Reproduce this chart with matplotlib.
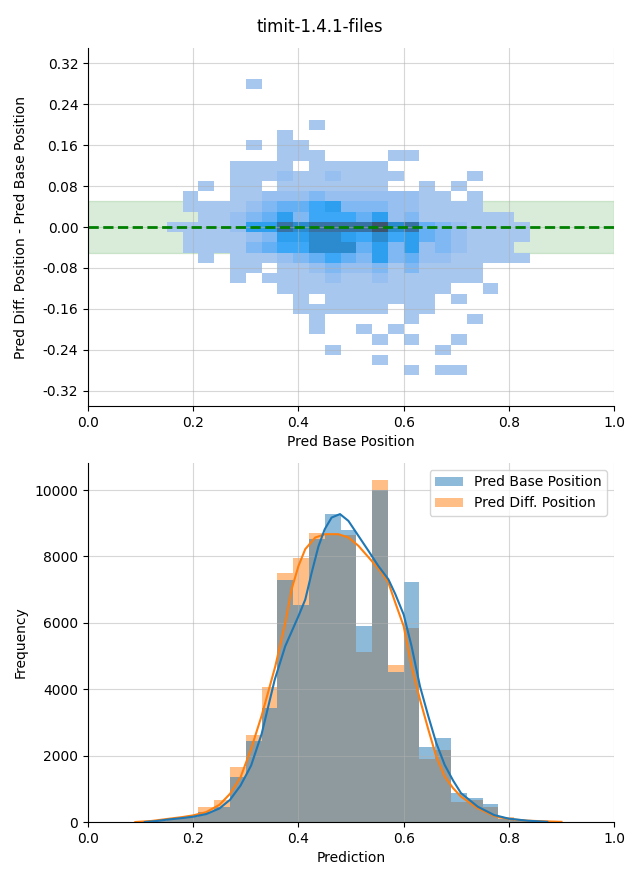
import numpy as np
import matplotlib
matplotlib.use("Agg")
import matplotlib.pyplot as plt
from matplotlib.colors import ListedColormap, to_rgb
from matplotlib.patches import Patch
from seaborn.external import husl

################### DATA ##############################
title = "timit-1.4.1-files"

# 2d histogram (top): bin edges and shade level of every cell
# rows go from the top (y=0.29) down to the bottom (y=-0.29)
heat_x_edges = np.round(np.arange(0.15, 0.8401, 0.03), 3)
heat_y_edges = np.round(np.arange(0.29, -0.2901, -0.02), 3)
shade_rows = [
    "00000100000000000000000",
    "00000000000000000000000",
    "00000000000000000000000",
    "00000000000000000000000",
    "00000000010000000000000",
    "00000001000000000000000",
    "00000101100000000000000",
    "00000001110000110000000",
    "00001111011111000000000",
    "00001112112111100001000",
    "00101101111111001010000",
    "01001122232222221101000",
    "01111234456333221111000",
    "00112346355546231111110",
    "11112668788889784321111",
    "01111236677657564321111",
    "01111345577746362321110",
    "00101112345436342211111",
    "00001101123223131111000",
    "00001011112112111111000",
    "00000001111111111100100",
    "00000000101111111010000",
    "00000000111111011000000",
    "00000000010000010001000",
    "00000000010010100000000",
    "00000000000001010010000",
    "00000000001000000100000",
    "00000000000001000000000",
    "00000000000000010110000",
]
# approx count behind each shade level
shade_counts = [0, 20, 80, 160, 230, 310, 380, 550, 750, 1000]

band = 0.05
yticks_top = [-0.32, -0.24, -0.16, -0.08, 0.00, 0.08, 0.16, 0.24, 0.32]

# histograms (bottom)
hist_edges = np.round(np.arange(0.09, 0.9001, 0.03), 3)
base_counts = [10, 40, 80, 140, 310, 460, 1370, 2430, 3440, 7280, 6540, 8520,
               9275, 8790, 5900, 10000, 4510, 7220, 2270, 2540, 880, 710, 540,
               90, 40, 15, 0]
diff_counts = [30, 60, 100, 160, 450, 665, 1670, 2630, 4080, 7510, 7960, 8700,
               8680, 8640, 5110, 10300, 4740, 5830, 1900, 2175, 610, 650, 460,
               160, 60, 40, 30]

# kde curves
base_kde_x = [0.108, 0.13, 0.155, 0.18, 0.20, 0.225, 0.25, 0.27, 0.29, 0.31,
              0.33, 0.355, 0.375, 0.40, 0.413, 0.425, 0.438, 0.45, 0.463,
              0.479, 0.495, 0.514, 0.533, 0.552, 0.571, 0.584, 0.60, 0.615,
              0.631, 0.647, 0.662, 0.678, 0.694, 0.709, 0.741, 0.772, 0.80,
              0.835, 0.873]
base_kde_y = [0, 30, 80, 120, 160, 240, 410, 670, 1100, 1700,
              2650, 4290, 5300, 6200, 6700, 7500, 8300, 8820, 9170,
              9275, 9070, 8620, 8170, 7710, 7310, 6870, 6250, 5300,
              4090, 3180, 2380, 1720, 1250, 870, 460, 210, 100,
              40, 5]
diff_kde_x = [0.09, 0.12, 0.155, 0.18, 0.20, 0.225, 0.25, 0.27, 0.29, 0.31,
              0.33, 0.356, 0.375, 0.387, 0.40, 0.413, 0.432, 0.451, 0.476,
              0.495, 0.514, 0.539, 0.558, 0.571, 0.584, 0.60, 0.615, 0.631,
              0.647, 0.662, 0.678, 0.694, 0.709, 0.741, 0.772, 0.80, 0.835,
              0.87, 0.90]
diff_kde_y = [0, 30, 100, 150, 200, 300, 520, 850, 1350, 2200,
              3200, 4690, 6000, 7010, 7710, 8220, 8570, 8670, 8670,
              8570, 8320, 7870, 7510, 7210, 6610, 5900, 4690, 3690,
              2780, 1970, 1370, 1020, 765, 413, 181, 90, 40,
              20, 5]


def cmap_from_color(color):
    # same ramp seaborn uses for 2d histograms
    r, g, b = to_rgb(color)
    h, s, _ = husl.rgb_to_husl(r, g, b)
    xx = np.linspace(-1, 1, int(1.15 * 256))[:256]
    ramp = np.zeros((256, 3))
    ramp[:, 0] = h
    ramp[:, 1] = s * np.cos(xx)
    ramp[:, 2] = np.linspace(35, 80, 256)
    colors = np.clip([husl.husl_to_rgb(*hsl) for hsl in ramp], 0, 1)
    return ListedColormap(colors[::-1])


def main():
    fig = plt.figure(figsize=(6.4, 8.8), dpi=100)
    fig.suptitle(title, fontsize=12)

    ############################### TOP #######################################
    ax1 = fig.add_axes([0.1375, 0.5386, 0.822, 0.4068])
    levels = np.array([[int(c) for c in row] for row in shade_rows])
    counts = np.array(shade_counts)[levels]
    counts = np.ma.masked_less_equal(counts, 0)
    ax1.axhspan(-band, band, color="green", alpha=0.15, zorder=0.5)
    ax1.pcolormesh(heat_x_edges, heat_y_edges, counts,
                   cmap=cmap_from_color("C0"), vmin=0, vmax=max(shade_counts))
    ax1.axhline(0, color="green", linestyle="--", linewidth=2)
    ax1.set_xlim(0, 1)
    ax1.set_ylim(-0.35, 0.35)
    ax1.set_yticks(yticks_top)
    ax1.set_yticklabels(["%.2f" % t for t in yticks_top])
    ax1.grid(True, alpha=0.5)
    ax1.set_xlabel("Pred Base Position")
    ax1.set_ylabel("Pred Diff. Position - Pred Base Position")
    ax1.spines["top"].set_visible(False)
    ax1.spines["right"].set_visible(False)

    ############################### BOTTOM ####################################
    ax2 = fig.add_axes([0.1375, 0.0659, 0.822, 0.408])
    lefts = hist_edges[:-1]
    widths = np.diff(hist_edges)
    # orange first, blue on top (gives the grey overlap)
    ax2.bar(lefts, diff_counts, width=widths, align="edge", color="C1",
            alpha=0.5, linewidth=0)
    ax2.bar(lefts, base_counts, width=widths, align="edge", color="C0",
            alpha=0.5, linewidth=0)
    ax2.plot(diff_kde_x, diff_kde_y, color="C1", linewidth=1.5)
    ax2.plot(base_kde_x, base_kde_y, color="C0", linewidth=1.5)
    ax2.set_xlim(0, 1)
    ax2.set_ylim(0, 10815)
    ax2.grid(True, alpha=0.5)
    ax2.set_xlabel("Prediction")
    ax2.set_ylabel("Frequency")
    ax2.spines["top"].set_visible(False)
    ax2.spines["right"].set_visible(False)
    handles = [Patch(facecolor="C0", alpha=0.5, label="Pred Base Position"),
               Patch(facecolor="C1", alpha=0.5, label="Pred Diff. Position")]
    ax2.legend(handles=handles, loc="upper right")

    # both y labels in the same column
    for ax in (ax1, ax2):
        ax.yaxis.set_label_coords(-0.114, 0.5)

    fig.savefig("out.png", dpi=100)


if __name__ == "__main__":
    main()
